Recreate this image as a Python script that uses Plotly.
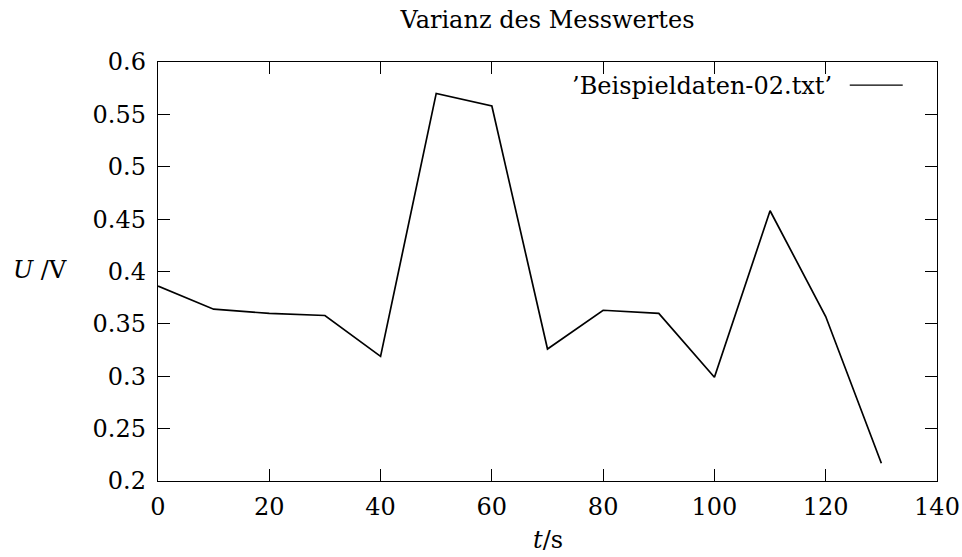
import plotly.graph_objects as go

# Data
t_values = [0, 10, 20, 30, 40, 50, 60, 70, 80, 90, 100, 110, 120, 130]
u_values = [0.386, 0.364, 0.360, 0.358, 0.319, 0.570, 0.558, 0.326, 0.363, 0.360, 0.299, 0.458, 0.357, 0.217]

x_ticks = [0, 20, 40, 60, 80, 100, 120, 140]
y_ticks = [0.2, 0.25, 0.3, 0.35, 0.4, 0.45, 0.5, 0.55, 0.6]
y_ticklabels = ["0.2", "0.25", "0.3", "0.35", "0.4", "0.45", "0.5", "0.55", "0.6"]

series_name = "’Beispieldaten-02.txt’"
title_text = "Varianz des Messwertes"
x_label = "<i>t</i>/s"
y_label = "<i>U</i> /V"

FONT = "DejaVu Serif"
FS = 24

W, H = 962, 557

fig = go.Figure()
fig.add_trace(go.Scatter(
    x=t_values, y=u_values, mode="lines",
    line=dict(color="black", width=1.7),
    name=series_name, showlegend=False,
))

axis_common = dict(
    showline=True, linecolor="black", linewidth=1.4, mirror="allticks",
    ticks="inside", ticklen=12, tickwidth=1, tickcolor="black",
    showgrid=False, zeroline=False, ticklabeloverflow="allow",
    tickfont=dict(family=FONT, size=FS, color="black"),
)

fig.update_xaxes(range=[0, 140], tickvals=x_ticks, ticklabelstandoff=4, **axis_common)
fig.update_yaxes(range=[0.2, 0.6], tickvals=y_ticks, ticktext=y_ticklabels,
                 ticklabelstandoff=6, **axis_common)

fig.update_layout(
    width=W, height=H,
    margin=dict(l=158, r=25, t=62, b=76, autoexpand=False),
    paper_bgcolor="white", plot_bgcolor="white",
    font=dict(family=FONT, size=FS, color="black"),
    title=dict(text=title_text, x=0.5, xref="paper", xanchor="center",
               y=1 - 20 / H, yref="container", yanchor="middle",
               font=dict(family=FONT, size=FS, color="black")),
    showlegend=False,
)

# axis labels
fig.add_annotation(text=x_label, xref="paper", yref="paper", x=0.5, y=-0.141,
                   xanchor="center", yanchor="middle", showarrow=False,
                   font=dict(family=FONT, size=FS, color="black"))
fig.add_annotation(text=y_label, xref="paper", yref="paper", x=-0.151, y=0.503,
                   xanchor="center", yanchor="middle", showarrow=False,
                   font=dict(family=FONT, size=FS, color="black"))

# legend (gnuplot style: text then sample line)
fig.add_annotation(text=series_name, xref="paper", yref="paper", x=0.868, y=0.943,
                   xanchor="right", yanchor="middle", showarrow=False,
                   font=dict(family=FONT, size=FS, color="black"))
fig.add_shape(type="line", xref="paper", yref="paper", x0=0.888, x1=0.956,
              y0=0.945, y1=0.945, line=dict(color="black", width=1.2))

fig.write_html(
    "out.html",
    config={"displayModeBar": False},
    post_script="document.body.style.margin='0';document.body.style.overflow='hidden';",
)
